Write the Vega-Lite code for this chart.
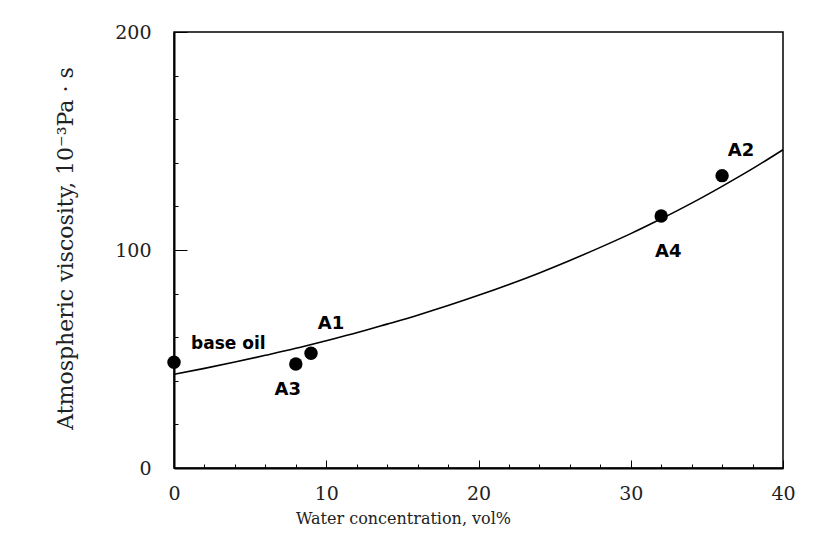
{
  "$schema": "https://vega.github.io/schema/vega-lite/v6.json",
  "autosize": "none",
  "width": 609,
  "height": 436,
  "padding": {"left": 174, "top": 32, "right": 40, "bottom": 69},
  "background": "white",
  "datasets": {
    "curve": [
      {"x": 0, "y": 43.0}, {"x": 2, "y": 45.7}, {"x": 4, "y": 48.6}, {"x": 6, "y": 51.7},
      {"x": 8, "y": 54.9}, {"x": 10, "y": 58.4}, {"x": 12, "y": 62.0}, {"x": 14, "y": 66.0},
      {"x": 16, "y": 70.1}, {"x": 18, "y": 74.5}, {"x": 20, "y": 79.2}, {"x": 22, "y": 84.2},
      {"x": 24, "y": 89.5}, {"x": 26, "y": 95.2}, {"x": 28, "y": 101.2}, {"x": 30, "y": 107.5},
      {"x": 32, "y": 114.3}, {"x": 34, "y": 121.5}, {"x": 36, "y": 129.2}, {"x": 38, "y": 137.3},
      {"x": 40, "y": 146.0}
    ],
    "pts": [
      {"x": 0, "y": 48.5, "label": "base oil"},
      {"x": 8, "y": 47.7, "label": "A3"},
      {"x": 9, "y": 52.6, "label": "A1"},
      {"x": 32, "y": 115.6, "label": "A4"},
      {"x": 36, "y": 134.1, "label": "A2"}
    ]
  },
  "resolve": {"axis": {"x": "independent", "y": "independent"}},
  "layer": [
    {
      "data": {"name": "curve"},
      "mark": {"type": "line", "color": "black", "strokeWidth": 1.6, "interpolate": "monotone"},
      "encoding": {
        "x": {"field": "x", "type": "quantitative", "scale": {"domain": [0, 40], "nice": false},
          "axis": {"orient": "bottom", "values": [0, 10, 20, 30, 40], "tickSize": -8, "labelPadding": 24,
            "title": "Water concentration,  vol%", "titleX": 229, "titleY": 50, "titleAnchor": null,
            "titleAlign": "center", "titleBaseline": "middle", "titleFontSize": 16, "grid": false}},
        "y": {"field": "y", "type": "quantitative", "scale": {"domain": [0, 200], "nice": false},
          "axis": {"orient": "left", "values": [0, 100, 200], "tickSize": -13, "labelPadding": 36,
            "title": "Atmospheric viscosity,  10⁻³Pa · s", "titleX": -109, "titleY": 216, "titleAngle": -90,
            "titleAlign": "center", "titleBaseline": "middle", "titleFontSize": 22, "grid": false}}
      }
    },
    {
      "data": {"name": "pts"},
      "mark": {"type": "point", "filled": true, "color": "black", "opacity": 1, "size": 180},
      "encoding": {
        "x": {"field": "x", "type": "quantitative",
          "axis": {"orient": "bottom", "values": [2, 4, 6, 8, 12, 14, 16, 18, 22, 24, 26, 28, 32, 34, 36, 38],
            "tickSize": -4, "labels": false, "domain": false, "title": null, "grid": false}},
        "y": {"field": "y", "type": "quantitative",
          "axis": {"orient": "left", "values": [20, 40, 60, 80, 120, 140, 160, 180],
            "tickSize": -4, "labels": false, "domain": false, "title": null, "grid": false}}
      }
    },
    {
      "data": {"name": "pts"},
      "transform": [{"filter": "datum.label === 'base oil'"}],
      "mark": {"type": "text", "font": "DejaVu Sans", "fontWeight": "bold", "fontSize": 17, "align": "left", "baseline": "middle", "dx": 17, "dy": -18, "color": "black"},
      "encoding": {
        "x": {"field": "x", "type": "quantitative", "axis": null},
        "y": {"field": "y", "type": "quantitative", "axis": null},
        "text": {"field": "label"}
      }
    },
    {
      "data": {"name": "pts"},
      "transform": [{"filter": "datum.label === 'A1'"}],
      "mark": {"type": "text", "font": "DejaVu Sans", "fontWeight": "bold", "fontSize": 18, "align": "center", "baseline": "middle", "dx": 20, "dy": -29, "color": "black"},
      "encoding": {
        "x": {"field": "x", "type": "quantitative", "axis": null},
        "y": {"field": "y", "type": "quantitative", "axis": null},
        "text": {"field": "label"}
      }
    },
    {
      "data": {"name": "pts"},
      "transform": [{"filter": "datum.label === 'A3'"}],
      "mark": {"type": "text", "font": "DejaVu Sans", "fontWeight": "bold", "fontSize": 18, "align": "center", "baseline": "middle", "dx": -8, "dy": 26, "color": "black"},
      "encoding": {
        "x": {"field": "x", "type": "quantitative", "axis": null},
        "y": {"field": "y", "type": "quantitative", "axis": null},
        "text": {"field": "label"}
      }
    },
    {
      "data": {"name": "pts"},
      "transform": [{"filter": "datum.label === 'A4'"}],
      "mark": {"type": "text", "font": "DejaVu Sans", "fontWeight": "bold", "fontSize": 18, "align": "center", "baseline": "middle", "dx": 7, "dy": 36, "color": "black"},
      "encoding": {
        "x": {"field": "x", "type": "quantitative", "axis": null},
        "y": {"field": "y", "type": "quantitative", "axis": null},
        "text": {"field": "label"}
      }
    },
    {
      "data": {"name": "pts"},
      "transform": [{"filter": "datum.label === 'A2'"}],
      "mark": {"type": "text", "font": "DejaVu Sans", "fontWeight": "bold", "fontSize": 18, "align": "center", "baseline": "middle", "dx": 19, "dy": -25, "color": "black"},
      "encoding": {
        "x": {"field": "x", "type": "quantitative", "axis": null},
        "y": {"field": "y", "type": "quantitative", "axis": null},
        "text": {"field": "label"}
      }
    }
  ],
  "config": {
    "view": {"stroke": "black", "strokeWidth": 1.5},
    "axis": {
      "domainColor": "black", "domainWidth": 2, "tickColor": "black", "tickWidth": 1,
      "labelColor": "#222222", "titleColor": "#222222",
      "labelFont": "DejaVu Serif", "labelFontSize": 19, "labelFlush": false,
      "titleFont": "DejaVu Serif", "titleFontWeight": "normal"
    }
  }
}
